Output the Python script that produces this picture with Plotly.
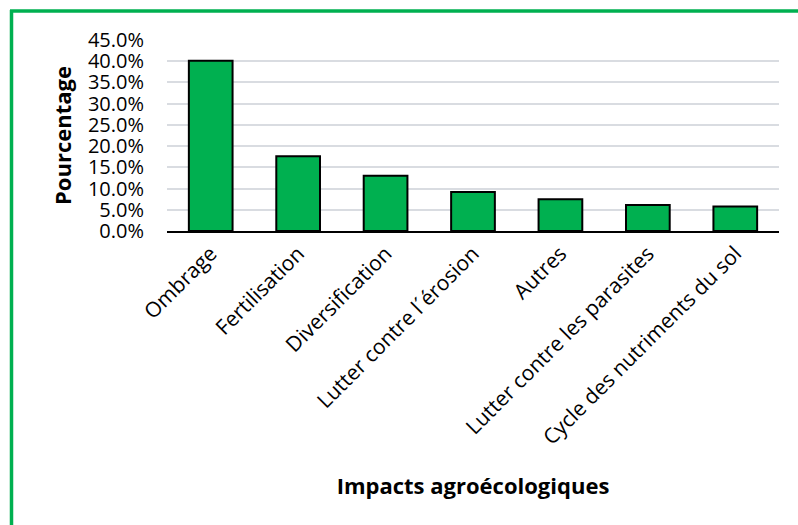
import plotly.graph_objects as go

categories = ["Ombrage", "Fertilisation", "Diversification", "Lutter contre l\u00b4\u00e9rosion",
              "Autres", "Lutter contre les parasites", "Cycle des nutriments du sol"]
values = [0.401, 0.176, 0.130, 0.092, 0.075, 0.061, 0.058]
tick_vals = [0.0, 0.05, 0.10, 0.15, 0.20, 0.25, 0.30, 0.35, 0.40, 0.45]

W, H = 798, 525
L, R, T, B = 167, 19, 40, 294
pw, ph = W - L - R, H - T - B

FONT = "Open Sans, Lato, sans-serif"
GREEN = "#00B050"

fig = go.Figure(go.Bar(
    x=categories, y=values, width=0.5,
    marker=dict(color=GREEN, line=dict(color="black", width=2)),
))

def px_to_paper_x(px):
    return (px - L) / pw

def px_to_paper_y(py):
    return 1 - (py - T) / ph

fig.update_layout(
    width=W, height=H,
    margin=dict(l=L, r=R, t=T, b=B, autoexpand=False),
    paper_bgcolor="white", plot_bgcolor="white",
    font=dict(family=FONT, color="black", size=20),
    showlegend=False,
    xaxis=dict(
        tickangle=-45, tickfont=dict(size=21), showgrid=False,
        showline=True, linecolor="black", linewidth=2, ticks="",
        title=dict(text="<b>Impacts agro\u00e9cologiques</b>", font=dict(size=22), standoff=29),
        automargin=False,
    ),
    yaxis=dict(
        range=[0, 0.45], tickvals=tick_vals, tickformat=".1%",
        tickfont=dict(size=20), ticklabelstandoff=22,
        showgrid=True, gridcolor="#D9DCE1", gridwidth=1.5,
        zeroline=False, showline=False, ticks="",
        title=dict(text="<b>Pourcentage</b>", font=dict(size=22), standoff=10),
        automargin=False,
    ),
    shapes=[
        dict(type="line", xref="paper", yref="paper",
             x0=px_to_paper_x(11.5), x1=px_to_paper_x(11.5),
             y0=px_to_paper_y(10), y1=px_to_paper_y(530),
             line=dict(color=GREEN, width=3.5)),
        dict(type="line", xref="paper", yref="paper",
             x0=px_to_paper_x(10), x1=px_to_paper_x(800),
             y0=px_to_paper_y(11), y1=px_to_paper_y(11),
             line=dict(color=GREEN, width=3.5)),
    ],
)

fig.write_html("out.html")
